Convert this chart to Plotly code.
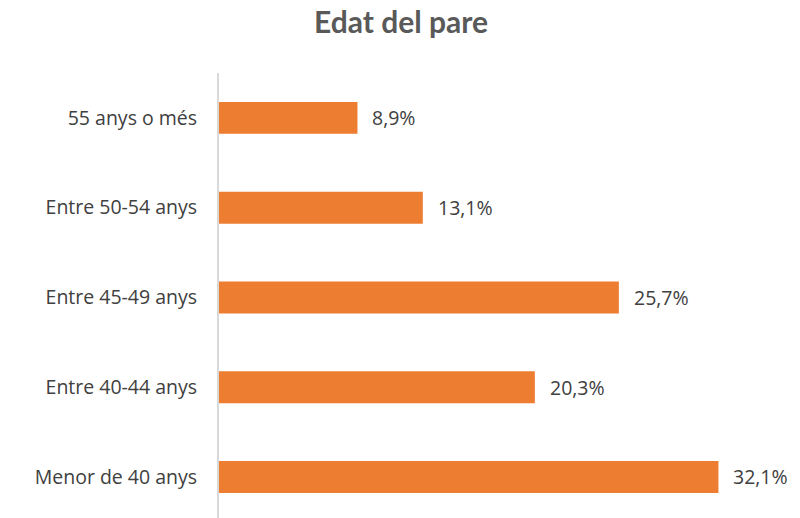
import plotly.graph_objects as go

categories = ["Menor de 40 anys", "Entre 40-44 anys", "Entre 45-49 anys", "Entre 50-54 anys", "55 anys o més"]
values = [32.1, 20.3, 25.7, 13.1, 8.9]
labels = ["32,1%", "20,3%", "25,7%", "13,1%", "8,9%"]

FONT = "Open Sans"

fig = go.Figure()
fig.add_trace(go.Bar(
    x=values, y=categories, orientation="h",
    marker=dict(color="#ED7D31", line=dict(width=0)),
    width=0.356, hoverinfo="skip",
))
for v, c, t in zip(values, categories, labels):
    fig.add_annotation(x=v, y=c, text=t, showarrow=False, xanchor="left",
                       xshift=13, font=dict(size=19.5, color="#404040", family=FONT))

fig.update_layout(
    width=800, height=518,
    margin=dict(l=219, r=10, t=73, b=0, autoexpand=False),
    paper_bgcolor="white", plot_bgcolor="white",
    showlegend=False,
    title=dict(text="<b>Edat del pare</b>", x=401 / 800, xref="container", xanchor="center",
               y=1 - 22 / 518, yref="container", yanchor="middle",
               font=dict(size=30, color="#595959", family="Lato")),
    font=dict(family=FONT, size=19.5, color="#404040"),
)
fig.update_xaxes(range=[0, 36.7], showgrid=False, zeroline=False, showticklabels=False,
                 showline=False, fixedrange=True, automargin=False)
fig.update_yaxes(type="category", categoryorder="array", categoryarray=categories,
                 range=[-0.457, 4.5], showgrid=False, zeroline=False, automargin=False,
                 showline=True, linecolor="#D9D9D9", linewidth=2,
                 ticks="", ticklabelstandoff=16, tickfont=dict(size=19.5, color="#404040", family=FONT))
fig.write_html("out.html", config={"displayModeBar": False},
               post_script="document.body.style.margin='0';")
